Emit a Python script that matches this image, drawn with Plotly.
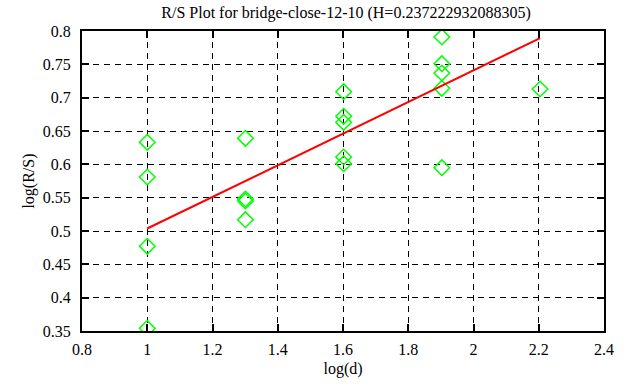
import plotly.graph_objects as go

# data
log_d = [1.0, 1.0, 1.0, 1.0,
         1.301, 1.301, 1.301, 1.301,
         1.602, 1.602, 1.602, 1.602, 1.602,
         1.903, 1.903, 1.903, 1.903, 1.903,
         2.204]
log_rs = [0.633, 0.581, 0.477, 0.354,
          0.639, 0.548, 0.545, 0.517,
          0.709, 0.672, 0.663, 0.611, 0.601,
          0.791, 0.751, 0.737, 0.714, 0.595,
          0.713]
H = 0.237222932088305
intercept = 0.2665
fit_x = [1.0, 2.204]
fit_y = [intercept + H * x for x in fit_x]

x_ticks = [0.8, 1.0, 1.2, 1.4, 1.6, 1.8, 2.0, 2.2, 2.4]
x_labels = ["0.8", "1", "1.2", "1.4", "1.6", "1.8", "2", "2.2", "2.4"]
y_ticks = [0.35, 0.4, 0.45, 0.5, 0.55, 0.6, 0.65, 0.7, 0.75, 0.8]
y_labels = ["0.35", "0.4", "0.45", "0.5", "0.55", "0.6", "0.65", "0.7", "0.75", "0.8"]

font = "Liberation Serif, Times New Roman, serif"

fig = go.Figure()
fig.add_trace(go.Scatter(x=log_d, y=log_rs, mode="markers",
                         marker=dict(symbol="diamond-open", size=12,
                                     color="#00ff00", line=dict(width=1.5, color="#00ff00")),
                         showlegend=False))
fig.add_trace(go.Scatter(x=fit_x, y=fit_y, mode="lines",
                         line=dict(color="#ff0000", width=2), showlegend=False))

axis_common = dict(showline=True, linecolor="black", linewidth=2, mirror="ticks",
                   ticks="inside", ticklen=7, tickcolor="black", tickwidth=2,
                   showgrid=True, gridcolor="black", gridwidth=1, griddash="6px,5px",
                   zeroline=False, tickfont=dict(family=font, size=16, color="black"))

fig.update_xaxes(range=[0.8, 2.4], tickvals=x_ticks, ticktext=x_labels,
                 title=dict(text="log(d)", font=dict(family=font, size=16, color="black"), standoff=6),
                 ticklabelstandoff=3, **axis_common)
fig.update_yaxes(range=[0.35, 0.8], tickvals=y_ticks, ticktext=y_labels,
                 title=dict(text="log(R/S)", font=dict(family=font, size=16, color="black"), standoff=4),
                 ticklabelstandoff=6, **axis_common)

fig.update_layout(width=626, height=387,
                  margin=dict(l=82, r=16, t=31, b=56),
                  font=dict(family=font, size=16, color="black"),
                  paper_bgcolor="white", plot_bgcolor="white",
                  title=dict(text="R/S Plot for bridge-close-12-10 (H=0.237222932088305)",
                             font=dict(family=font, size=16, color="black"),
                             x=(82 + 610) / 2 / 626, xanchor="center", y=1 - 12 / 387, yanchor="middle"))

fig.write_html("out.html", config={"displayModeBar": False},
               post_script="document.body.style.margin='0';")
